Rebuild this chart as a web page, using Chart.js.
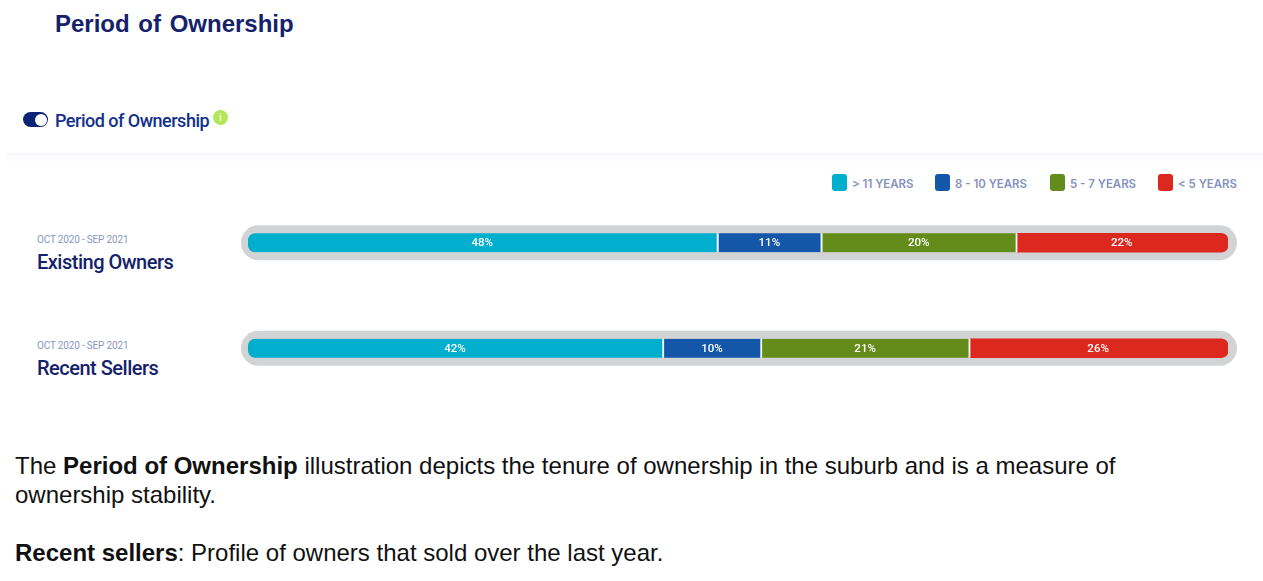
<!DOCTYPE html>
<html>
<head>
<meta charset="utf-8">
<title>Period of Ownership</title>
<script src="https://cdn.jsdelivr.net/npm/chart.js@4/dist/chart.umd.min.js"></script>
<style>
  html, body { margin: 0; padding: 0; background: #fff; overflow: hidden; }
  body { width: 1263px; height: 581px; position: relative; font-family: "Liberation Sans", Arial, sans-serif; }
  .abs { position: absolute; white-space: nowrap; }
  #title { left: 55px; top: 10px; font-size: 24px; font-weight: bold; color: #14216b; word-spacing: 2px; }
  #toggle { left: 23px; top: 112px; width: 25px; height: 15px; border-radius: 8px; background: #0b2478; }
  #toggle span { position: absolute; right: 1.5px; top: 1.5px; width: 12px; height: 12px; border-radius: 50%; background: #fff; }
  #subtitle { left: 55px; top: 110px; font: 500 18px Roboto, sans-serif; letter-spacing: -0.5px; color: #12308c; }
  #info { left: 213px; top: 110px; width: 15px; height: 15px; border-radius: 50%; background: #b4e65a; color: #e8f8c8; font: bold 10px/15px "Liberation Sans"; text-align: center; }
  #band { left: 6px; top: 153px; width: 1257px; height: 10px; background: linear-gradient(#f9f9fc, #fff); }
  .legend { top: 175px; height: 17px; font: 600 11.45px/19px Inter, sans-serif; color: #8592bd; }
  .legend i { position: absolute; left: 0; top: -1px; width: 15px; height: 17px; border-radius: 3px; }
  .legend span { position: absolute; left: 20px; top: 0; }
  .period { left: 37px; font: 400 10px Roboto, sans-serif; letter-spacing: -0.17px; color: #8a96c0; }
  .name { left: 37px; font: 500 20px Roboto, sans-serif; letter-spacing: -0.5px; color: #14216b; }
  #chartBox { position: absolute; left: 230px; top: 190px; width: 1020px; height: 211px; }
  .note { left: 15px; font-size: 24px; color: #111; }
</style>
</head>
<body>
<div class="abs" id="title">Period of Ownership</div>
<div class="abs" id="toggle"><span></span></div>
<div class="abs" id="subtitle">Period of Ownership</div>
<div class="abs" id="info">i</div>
<div class="abs" id="band"></div>
<div id="legendBox"></div>
<div class="abs period" style="top:234px">OCT 2020 - SEP 2021</div>
<div class="abs name" style="top:250px">Existing Owners</div>
<div class="abs period" style="top:340px">OCT 2020 - SEP 2021</div>
<div class="abs name" style="top:356px">Recent Sellers</div>
<div id="chartBox"><canvas id="ownershipChart"></canvas></div>
<div class="abs note" style="top:452px">The <b>Period of Ownership</b> illustration depicts the tenure of ownership in the suburb and is a measure of</div>
<div class="abs note" style="top:481px">ownership stability.</div>
<div class="abs note" style="top:539px"><b>Recent sellers</b>: Profile of owners that sold over the last year.</div>

<script>
const categories = ['Existing Owners', 'Recent Sellers'];
const bandNames = ['> 11 YEARS', '8 - 10 YEARS', '5 - 7 YEARS', '< 5 YEARS'];
const over11 = [48, 42.45];
const from8to10 = [10.6, 10];
const from5to7 = [19.9, 21.25];
const under5 = [21.5, 26.3];
const bandColors = ['#00aecd', '#1457a8', '#648c1a', '#dc281e'];
const legendLefts = [832, 935, 1050, 1158];

// legend is plain html so it can sit outside the chart box
document.getElementById('legendBox').innerHTML = bandNames.map((name, i) =>
  `<div class="abs legend" style="left:${legendLefts[i]}px"><i style="background:${bandColors[i]}"></i><span>${name.replace('<', '&lt;')}</span></div>`
).join('');

// grey pill behind each bar
const trackPlugin = {
  id: 'track',
  beforeDatasetsDraw(chart) {
    const { ctx, scales: { x, y } } = chart;
    ctx.save();
    ctx.fillStyle = '#d2d3d5';
    categories.forEach((c, i) => {
      const mid = y.getPixelForValue(i);
      ctx.beginPath();
      ctx.roundRect(x.left - 7, mid - 17.5, x.right - x.left + 16, 35, 17.5);
      ctx.fill();
    });
    ctx.restore();
  }
};

// percent text in the middle of each segment
const labelPlugin = {
  id: 'segmentLabels',
  afterDatasetsDraw(chart) {
    const { ctx } = chart;
    ctx.save();
    ctx.fillStyle = '#fff';
    ctx.font = '500 11.5px Roboto, sans-serif';
    ctx.textAlign = 'center';
    ctx.textBaseline = 'middle';
    chart.data.datasets.forEach((ds, d) => {
      chart.getDatasetMeta(d).data.forEach((bar, i) => {
        const p = bar.getProps(['x', 'y', 'base'], true);
        ctx.fillText(Math.round(ds.data[i]) + '%', (p.x + p.base) / 2 - 1, p.y + 0.5);
      });
    });
    ctx.restore();
  }
};

const allValues = [over11, from8to10, from5to7, under5];

new Chart(document.getElementById('ownershipChart').getContext('2d'), {
  type: 'bar',
  data: {
    labels: categories,
    datasets: allValues.map((vals, i) => ({
      label: bandNames[i],
      data: vals,
      backgroundColor: bandColors[i],
      borderColor: '#fff',
      borderWidth: i < 3 ? { right: 2 } : 0,
      borderSkipped: false,
      borderRadius: i === 0
        ? { topLeft: 7, bottomLeft: 7 }
        : i === 3 ? { topRight: 7, bottomRight: 7 } : 0,
      barThickness: 19
    }))
  },
  options: {
    indexAxis: 'y',
    responsive: true,
    maintainAspectRatio: false,
    animation: false,
    layout: { padding: { left: 18, right: 22 } },
    plugins: { legend: { display: false }, tooltip: { enabled: false } },
    scales: {
      x: { stacked: true, min: 0, max: 100, display: false },
      y: { stacked: true, display: false }
    }
  },
  plugins: [trackPlugin, labelPlugin]
});
</script>
</body>
</html>
